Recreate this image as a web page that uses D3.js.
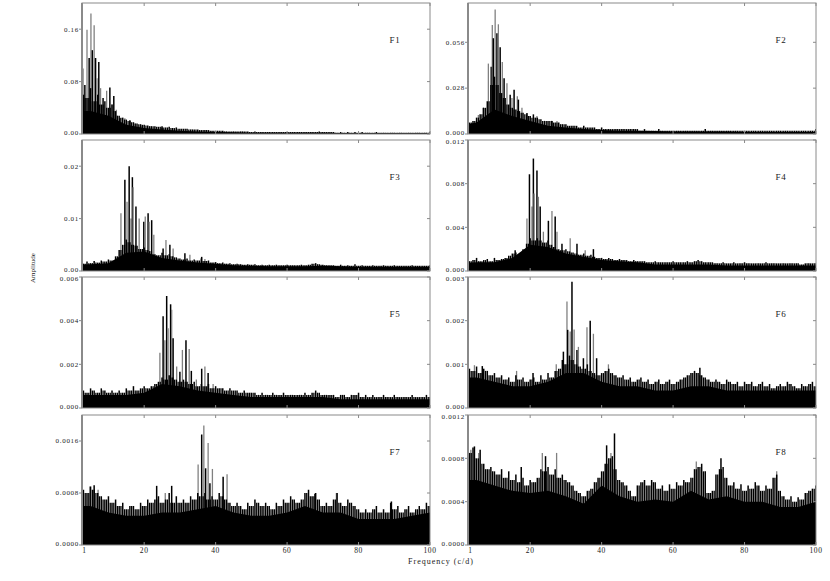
<!DOCTYPE html>
<html><head><meta charset="utf-8">
<script src="https://cdn.jsdelivr.net/npm/d3@7"></script>
<style>
body{margin:0;background:#fff}
svg{display:block}
text{font-family:"Liberation Serif","DejaVu Serif",serif;fill:#1a1a1a}
</style>
</head><body>
<svg id="c" width="830" height="581"></svg>
<script>
// ---------- DATA ----------
const freqMin = 2.6, freqMax = 100;
const xTickValues = [20, 40, 60, 80, 100];
const xFirstLabel = "1";
const noiseStart = 3;      // noise arrays: one value per c/d from 3 to 100
const floorStep = 5;       // floor arrays: one value per 5 c/d from 0 to 100

const panelNames = ["F1","F2","F3","F4","F5","F6","F7","F8"];
const panelMax = [0.2, 0.08, 0.025, 0.012, 0.006, 0.003, 0.002, 0.0012];
const yTicks = [
  [0, 0.08, 0.16],
  [0, 0.028, 0.056],
  [0, 0.01, 0.02],
  [0, 0.004, 0.008, 0.012],
  [0, 0.002, 0.004, 0.006],
  [0, 0.001, 0.002, 0.003],
  [0, 0.0008, 0.0016],
  [0, 0.0004, 0.0008, 0.0012]
];
const yDecimals = [2, 3, 2, 3, 3, 3, 4, 4];

const f1Noise = [.060,.055,.070,.050,.060,.045,.050,.040,.045,.035,
 .028,.025,.022,.020,.018,.016,.015,.014,.013,.012,
 .012,.011,.012,.010,.011,.009,.010,.008,.008,.008,
 .007,.007,.007,.006,.006,.006,.005,.005,.005,.005,
 .004,.004,.004,.004,.004,.004,.004,.003,.004,.003,
 .003,.003,.003,.003,.003,.003,.003,.003,.003,.003,
 .003,.003,.003,.003,.003,.003,.004,.003,.003,.003,
 .003,.002,.003,.002,.003,.002,.003,.002,.003,.002,
 .002,.002,.003,.002,.002,.002,.002,.002,.002,.002,
 .002,.002,.002,.002,.002,.002,.002,.003];
const f1Floor = [.035,.035,.028,.014,.009,.007,.005,.004,.003,.0025,.002,.002,.002,.002,.002,.0015,.0015,.0015,.0015,.0015,.0015];
const f1Peaks = [[2.9,.100],[3.4,.075],[4.0,.159],[4.6,.116],[5.1,.184],[5.5,.128],[6.0,.166],[6.4,.116],[6.8,.085],[7.3,.110],[7.8,.070],[8.5,.055],[9.5,.066],[10.4,.071],[11.0,.045],[11.5,.058],[12.2,.037],[13.2,.024],[14.6,.024],[16.0,.021],[17.5,.016],[19.0,.013],[22.0,.010],[25.0,.010]];

const f2Noise = [.007,.008,.010,.012,.016,.020,.030,.035,.030,.025,
 .022,.018,.016,.015,.014,.013,.012,.011,.010,.010,
 .009,.008,.008,.008,.007,.007,.006,.006,.005,.005,
 .005,.004,.005,.004,.004,.004,.003,.004,.003,.003,
 .003,.003,.003,.003,.003,.003,.003,.003,.002,.003,
 .002,.002,.002,.003,.002,.002,.002,.002,.002,.002,
 .002,.002,.002,.002,.002,.002,.003,.002,.002,.002,
 .002,.002,.002,.002,.002,.002,.002,.002,.002,.002,
 .002,.002,.002,.002,.002,.002,.002,.002,.002,.002,
 .002,.002,.002,.002,.002,.002,.002,.003];
const f2Floor = [.005,.007,.015,.011,.008,.005,.004,.003,.0025,.002,.002,.0018,.0015,.0015,.0015,.0015,.0012,.0012,.0012,.0012,.0012];
const f2Peaks = [[5.5,.0116],[6.9,.016],[8.3,.043],[9.1,.041],[9.4,.0666],[9.7,.0585],[10.2,.076],[10.7,.0615],[11.1,.067],[11.6,.053],[12.2,.044],[12.7,.034],[13.5,.031],[14.4,.024],[14.9,.022],[15.5,.027],[16.4,.023],[16.7,.021],[17.7,.016],[19.1,.0128],[20.0,.011],[20.9,.012],[21.9,.011],[26.1,.008],[27.5,.008]];

const f3Noise = [.0014,.0018,.0015,.0019,.0016,.0020,.0018,.0022,.0020,.0028,
 .0040,.0050,.0060,.0055,.0050,.0048,.0042,.0045,.0040,.0038,
 .0032,.0030,.0035,.0030,.0032,.0028,.0026,.0024,.0022,.0024,
 .0020,.0022,.0020,.0024,.0019,.0020,.0016,.0017,.0015,.0016,
 .0014,.0015,.0013,.0014,.0013,.0012,.0013,.0012,.0013,.0011,
 .0012,.0011,.0012,.0011,.0012,.0011,.0011,.0012,.0011,.0011,
 .0011,.0012,.0011,.0012,.0014,.0015,.0013,.0012,.0011,.0011,
 .0011,.0010,.0012,.0010,.0011,.0010,.0013,.0010,.0011,.0010,
 .0010,.0011,.0010,.0010,.0011,.0010,.0010,.0011,.0010,.0010,
 .0010,.0010,.0011,.0010,.0010,.0010,.0010,.0011];
const f3Floor = [.0012,.0013,.0015,.0035,.0037,.0025,.0020,.0016,.0014,.0011,.0010,.0009,.0009,.0009,.0010,.0009,.0008,.0008,.0008,.0008,.0008];
const f3Peaks = [[13.5,.011],[14.6,.0174],[15.2,.0132],[15.8,.020],[16.3,.010],[16.7,.0179],[16.9,.016],[17.7,.0123],[18.6,.010],[19.9,.0094],[20.3,.0104],[21.1,.011],[21.4,.0094],[22.1,.0097],[22.7,.0069],[25.3,.0043],[26.1,.0059],[27.2,.005],[28.1,.0043],[31.4,.0034],[32.8,.0031],[36.1,.0027],[37.0,.0023]];

const f4Noise = [.0009,.0010,.0012,.0009,.0010,.0011,.0009,.0012,.0010,.0011,
 .0012,.0014,.0016,.0017,.0014,.0020,.0025,.0030,.0028,.0030,
 .0028,.0026,.0028,.0024,.0022,.0020,.0019,.0020,.0018,.0017,
 .0016,.0015,.0016,.0014,.0015,.0013,.0012,.0012,.0011,.0012,
 .0011,.0010,.0011,.0010,.0010,.0009,.0010,.0009,.0009,.0009,
 .0008,.0008,.0009,.0008,.0008,.0008,.0008,.0009,.0008,.0008,
 .0008,.0009,.0008,.0009,.0010,.0009,.0008,.0008,.0008,.0007,
 .0007,.0008,.0007,.0007,.0008,.0007,.0007,.0008,.0007,.0007,
 .0007,.0007,.0007,.0008,.0007,.0007,.0007,.0007,.0007,.0007,
 .0007,.0007,.0007,.0006,.0007,.0007,.0007,.0007];
const f4Floor = [.0007,.0008,.0008,.0012,.0024,.0022,.0016,.0013,.0010,.0009,.0008,.0006,.0006,.0006,.0006,.0005,.0005,.0005,.0005,.0005,.0005];
const f4Peaks = [[15.1,.0015],[15.8,.0019],[19.1,.0048],[19.8,.00886],[20.5,.0059],[20.9,.0103],[21.1,.0071],[21.9,.0092],[22.3,.0068],[22.8,.0059],[23.7,.0036],[25.1,.0046],[26.1,.0055],[27.0,.0050],[27.5,.0036],[28.9,.0025],[31.2,.0030],[33.1,.0025],[35.4,.0019],[37.7,.0020]];

const f5Noise = [.0008,.0007,.0009,.0008,.0007,.0009,.0008,.0007,.0008,.0007,
 .0008,.0007,.0009,.0008,.0010,.0008,.0009,.0010,.0009,.0010,
 .0011,.0012,.0014,.0013,.0015,.0014,.0013,.0012,.0013,.0012,
 .0011,.0012,.0010,.0011,.0010,.0011,.0009,.0010,.0009,.0009,
 .0008,.0009,.0008,.0008,.0007,.0008,.0007,.0007,.0007,.0006,
 .0007,.0006,.0006,.0007,.0006,.0006,.0007,.0006,.0006,.0006,
 .0006,.0006,.0007,.0006,.0007,.0008,.0007,.0006,.0006,.0006,
 .0006,.0005,.0006,.0006,.0005,.0006,.0006,.0007,.0005,.0006,
 .0005,.0006,.0005,.0005,.0006,.0005,.0005,.0006,.0005,.0005,
 .0005,.0005,.0006,.0005,.0005,.0005,.0006,.0005];
const f5Floor = [.0006,.0006,.0006,.0006,.0007,.0011,.0010,.0008,.0007,.0006,.0005,.0005,.0005,.0005,.0005,.0004,.0004,.0004,.0004,.0004,.0004];
const f5Peaks = [[24.4,.00253],[25.3,.0042],[25.8,.0031],[26.3,.00513],[26.7,.00365],[27.4,.00475],[27.7,.0045],[28.1,.0032],[29.1,.0019],[30.0,.00166],[30.7,.00266],[31.7,.0031],[32.6,.0027],[33.2,.0017],[34.6,.0013],[36.1,.0018],[37.0,.0019],[37.9,.0016],[39.3,.0011]];

const f6Noise = [.00090,.00085,.00095,.00080,.00090,.00085,.00075,.00080,.00070,.00075,
 .00065,.00070,.00060,.00075,.00065,.00070,.00060,.00065,.00070,.00060,
 .00075,.00065,.00080,.00070,.00085,.00090,.00110,.00100,.00120,.00110,
 .00100,.00095,.00090,.00100,.00085,.00080,.00075,.00080,.00085,.00090,
 .00080,.00075,.00070,.00075,.00065,.00070,.00060,.00065,.00070,.00060,
 .00065,.00055,.00060,.00065,.00055,.00060,.00065,.00055,.00060,.00065,
 .00070,.00075,.00080,.00085,.00080,.00075,.00070,.00065,.00060,.00065,
 .00060,.00055,.00065,.00060,.00055,.00060,.00050,.00060,.00055,.00060,
 .00050,.00055,.00060,.00050,.00055,.00045,.00050,.00055,.00050,.00060,
 .00055,.00050,.00045,.00055,.00050,.00055,.00060,.00050];
const f6Floor = [.0007,.0007,.0006,.0005,.0005,.0006,.0008,.0008,.0006,.0005,.0005,.0004,.0004,.0005,.0005,.0004,.0004,.0004,.0004,.0004,.0004];
const f6Peaks = [[4.4,.00098],[6.6,.00096],[16.2,.00085],[20.8,.0008],[27.3,.0010],[29.3,.00129],[30.3,.00244],[30.5,.00179],[31.2,.00175],[31.7,.00289],[32.3,.0018],[33.1,.00133],[33.5,.0014],[34.9,.00114],[35.9,.00185],[36.8,.0020],[37.7,.0017],[38.6,.00114],[41.9,.0010],[67.5,.00092]];

const f7Noise = [.00085,.00080,.00090,.00085,.00080,.00075,.00070,.00075,.00065,.00070,
 .00060,.00065,.00055,.00060,.00060,.00055,.00065,.00060,.00070,.00065,
 .00070,.00075,.00065,.00070,.00080,.00065,.00075,.00065,.00070,.00065,
 .00075,.00070,.00080,.00075,.00080,.00070,.00075,.00070,.00080,.00075,
 .00070,.00065,.00060,.00065,.00060,.00055,.00065,.00060,.00070,.00065,
 .00060,.00065,.00060,.00055,.00065,.00060,.00070,.00065,.00075,.00070,
 .00065,.00070,.00080,.00085,.00075,.00080,.00070,.00060,.00065,.00060,
 .00070,.00080,.00065,.00060,.00070,.00065,.00060,.00055,.00050,.00055,
 .00050,.00055,.00060,.00050,.00055,.00050,.00065,.00055,.00060,.00050,
 .00055,.00060,.00050,.00055,.00060,.00055,.00065,.00060];
const f7Floor = [.0006,.0006,.0005,.00045,.00045,.0005,.0005,.00055,.0006,.0005,.00045,.00045,.0005,.0006,.0005,.0005,.0004,.0004,.0004,.00045,.0005];
const f7Peaks = [[4.8,.0009],[6.0,.00092],[7.1,.00085],[23.5,.00091],[25.9,.0008],[27.7,.00091],[35.1,.00124],[36.1,.0017],[36.7,.00184],[37.2,.00118],[37.9,.00157],[38.4,.00095],[39.1,.00117],[42.1,.00105],[43.2,.00109],[67.8,.00079],[73.8,.0008],[89.2,.00067]];

const f8Noise = [.00085,.00090,.00080,.00088,.00075,.00070,.00072,.00068,.00065,.00070,
 .00062,.00068,.00060,.00065,.00058,.00062,.00055,.00060,.00058,.00062,
 .00070,.00068,.00072,.00065,.00070,.00062,.00065,.00060,.00058,.00055,
 .00050,.00048,.00045,.00050,.00052,.00058,.00062,.00068,.00075,.00080,
 .00082,.00070,.00060,.00058,.00055,.00050,.00045,.00055,.00058,.00060,
 .00055,.00060,.00058,.00052,.00055,.00050,.00056,.00052,.00058,.00055,
 .00060,.00058,.00062,.00070,.00072,.00075,.00068,.00048,.00050,.00065,
 .00070,.00072,.00062,.00055,.00058,.00052,.00056,.00050,.00055,.00052,
 .00058,.00055,.00050,.00055,.00052,.00062,.00065,.00050,.00045,.00042,
 .00045,.00040,.00044,.00042,.00048,.00050,.00052,.00055];
const f8Floor = [.0006,.0006,.00055,.0005,.00048,.0005,.00045,.00038,.00055,.00045,.0004,.00042,.0004,.0005,.00042,.00045,.0004,.0004,.00035,.00035,.0004];
const f8Peaks = [[3.4,.00088],[4.4,.00091],[5.6,.00085],[17.5,.00072],[23.4,.00085],[24.3,.00082],[27.4,.00085],[41.4,.00092],[42.6,.00085],[43.6,.00103],[66.5,.00077],[73.4,.0008],[89.0,.00068]];

const allNoise = [f1Noise,f2Noise,f3Noise,f4Noise,f5Noise,f6Noise,f7Noise,f8Noise];
const allFloor = [f1Floor,f2Floor,f3Floor,f4Floor,f5Floor,f6Floor,f7Floor,f8Floor];
const allPeaks = [f1Peaks,f2Peaks,f3Peaks,f4Peaks,f5Peaks,f6Peaks,f7Peaks,f8Peaks];

// ---------- LAYOUT ----------
const colX = [[82, 430], [468, 816]];
const rowY = [[3, 134], [140, 271], [277, 408], [415, 545]];
const frameColor = "#8a8a8a";

const svg = d3.select("#c");

panelNames.forEach((name, i) => {
  const col = i % 2, row = Math.floor(i / 2);
  const [x0, x1] = colX[col];
  const [yt, yb] = rowY[row];
  const x = d3.scaleLinear().domain([freqMin, freqMax]).range([x0, x1]);
  const y = d3.scaleLinear().domain([0, panelMax[i]]).range([yb, yt]);
  const g = svg.append("g");
  const clipId = "clip" + i;
  svg.append("clipPath").attr("id", clipId).append("rect")
    .attr("x", x0).attr("y", yt).attr("width", x1 - x0).attr("height", yb - yt);
  const data = g.append("g").attr("clip-path", `url(#${clipId})`);

  // peaks (drawn first so the dense mass covers their lower parts)
  data.selectAll("line.peak").data(allPeaks[i]).join("line").attr("class", "peak")
    .attr("x1", d => x(d[0])).attr("x2", d => x(d[0]))
    .attr("y1", y(0)).attr("y2", d => y(d[1]))
    .attr("stroke", (d, k) => k % 2 === 0 ? "#808080" : "#000")
    .attr("stroke-width", (d, k) => k % 2 === 0 ? 1.3 : 1.5);

  // floor (solid region)
  const floorPts = allFloor[i].map((v, k) => [k * floorStep, v]);
  data.append("path")
    .attr("d", d3.area().x(d => x(d[0])).y0(y(0)).y1(d => y(d[1]))(floorPts))
    .attr("fill", "#000");

  // noise hairs
  const noisePts = allNoise[i].map((v, k) => [noiseStart + k, v]);
  data.selectAll("line.hair").data(noisePts).join("line").attr("class", "hair")
    .attr("x1", d => x(d[0])).attr("x2", d => x(d[0]))
    .attr("y1", y(0)).attr("y2", d => y(d[1]))
    .attr("stroke", "#000").attr("stroke-width", 1.5);
  data.selectAll("line.hair2").data(noisePts.slice(1)).join("line").attr("class", "hair2")
    .attr("x1", (d, k) => (x(d[0]) + x(noisePts[k][0])) / 2)
    .attr("x2", (d, k) => (x(d[0]) + x(noisePts[k][0])) / 2)
    .attr("y1", y(0)).attr("y2", (d, k) => y(Math.min(d[1], noisePts[k][1])))
    .attr("stroke", "#000").attr("stroke-width", 1.3);

  // frame
  g.append("rect").attr("x", x0).attr("y", yt).attr("width", x1 - x0).attr("height", yb - yt)
    .attr("fill", "none").attr("stroke", frameColor).attr("stroke-width", 1);
  g.append("line").attr("x1", x0).attr("x2", x0).attr("y1", yt).attr("y2", yb)
    .attr("stroke", frameColor).attr("stroke-width", 2);

  // y ticks (left labels, ticks both sides)
  const fmt = d3.format("." + yDecimals[i] + "f");
  const topVal = panelMax[i];
  yTicks[i].forEach(t => {
    g.append("line").attr("x1", x0 - 3).attr("x2", x0).attr("y1", y(t)).attr("y2", y(t))
      .attr("stroke", frameColor);
    g.append("line").attr("x1", x1 - 3).attr("x2", x1).attr("y1", y(t)).attr("y2", y(t))
      .attr("stroke", frameColor);
    const shift = t === 0 ? -1.2 : (Math.abs(t - topVal) < 1e-9 ? 1.6 : 0);
    g.append("text").attr("x", x0 - 3).attr("y", y(t) + shift).attr("dy", "0.33em")
      .attr("text-anchor", "end").attr("font-size", 7).attr("letter-spacing", 0.7).text(fmt(t));
  });
  // x ticks top and bottom
  xTickValues.forEach(t => {
    g.append("line").attr("x1", x(t)).attr("x2", x(t)).attr("y1", yt).attr("y2", yt + 3)
      .attr("stroke", frameColor);
    g.append("line").attr("x1", x(t)).attr("x2", x(t)).attr("y1", yb - 3).attr("y2", yb)
      .attr("stroke", frameColor);
  });
  if (row === 3) {
    xTickValues.forEach(t => {
      g.append("text").attr("x", x(t)).attr("y", yb + 8).attr("text-anchor", "middle")
        .attr("font-size", 7.5).attr("letter-spacing", 0.6).text(t);
    });
    g.append("text").attr("x", x0 + 2).attr("y", yb + 8).attr("text-anchor", "middle")
      .attr("font-size", 7.5).text(xFirstLabel);
  }
  // panel name
  g.append("text").attr("x", x1 - 35).attr("y", yt + 40).attr("text-anchor", "middle")
    .attr("font-size", 9).attr("letter-spacing", 0.8).text(name);
});

// axis titles
svg.append("text").attr("transform", "translate(35,268) rotate(-90)")
  .attr("text-anchor", "middle").attr("font-size", 7).text("Amplitude");
svg.append("text").attr("x", 441).attr("y", 564).attr("text-anchor", "middle")
  .attr("font-size", 8).attr("letter-spacing", 1).text("Frequency (c/d)");
</script>
</body></html>
